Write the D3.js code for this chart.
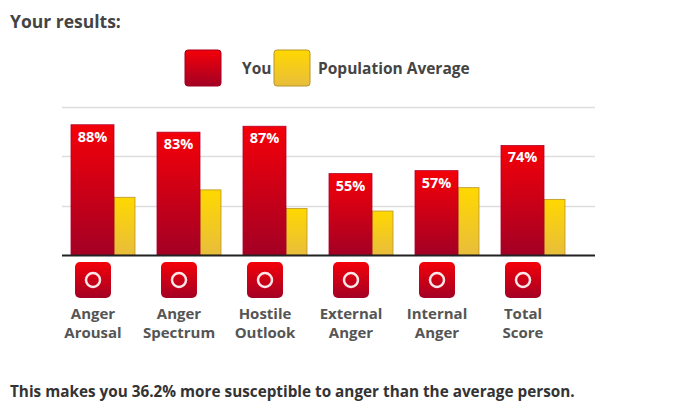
<!DOCTYPE html>
<html><head><meta charset="utf-8">
<script src="https://cdn.jsdelivr.net/npm/d3@7"></script>
<style>body{margin:0;background:#fff;font-family:"Open Sans",sans-serif}</style>
</head><body>
<svg id="c" width="680" height="413"></svg>
<script>
'use strict';

var categories = [["Anger", "Arousal"], ["Anger", "Spectrum"], ["Hostile", "Outlook"],
    ["External", "Anger"], ["Internal", "Anger"], ["Total", "Score"]];
var you = [88, 83, 87, 55, 57, 74];
var average = [39, 44, 31.5, 29.7, 45.5, 37.6];
var gridTicks = [33.3, 66.7, 100];

var svg = d3.select("#c");
var defs = svg.append("defs");
var gr = defs.append("linearGradient").attr("id", "gr").attr("x1", 0).attr("x2", 0).attr("y1", 0).attr("y2", 1);
gr.append("stop").attr("offset", 0).attr("stop-color", "#f40008");
gr.append("stop").attr("offset", 1).attr("stop-color", "#a30025");
var gy = defs.append("linearGradient").attr("id", "gy").attr("x1", 0).attr("x2", 0).attr("y1", 0).attr("y2", 1);
gy.append("stop").attr("offset", 0).attr("stop-color", "#ffd800");
gy.append("stop").attr("offset", 1).attr("stop-color", "#e8bd3c");

svg.append("text").attr("x", 10).attr("y", 28).attr("font-size", 17.5).attr("font-weight", "bold")
    .attr("fill", "#444").text("Your results:");

// legend
svg.append("rect").attr("x", 185).attr("y", 50).attr("width", 36).attr("height", 36).attr("rx", 3)
    .attr("fill", "url(#gr)").attr("stroke", "#a00020");
svg.append("text").attr("x", 242).attr("y", 74).attr("font-size", 15.5).attr("font-weight", "bold").attr("fill", "#444").text("You");
svg.append("rect").attr("x", 274).attr("y", 50).attr("width", 36).attr("height", 36).attr("rx", 3)
    .attr("fill", "url(#gy)").attr("stroke", "#b8952a");
svg.append("text").attr("x", 318).attr("y", 74).attr("font-size", 15.5).attr("font-weight", "bold").attr("fill", "#444").text("Population Average");

var y = d3.scaleLinear().domain([0, 100]).range([255, 107]);

svg.selectAll(".grid").data(gridTicks).enter().append("line")
    .attr("x1", 62).attr("x2", 595).attr("y1", function(d) { return Math.round(y(d)) + 0.5; })
    .attr("y2", function(d) { return Math.round(y(d)) + 0.5; })
    .attr("stroke", "#ddd").attr("stroke-width", 1.5);

var rw = 43, yw = 21;
var g = svg.selectAll(".grp").data(categories).enter().append("g")
    .attr("transform", function(d, i) { return "translate(" + (71 + i * 86) + ",0)"; });

g.append("rect").attr("x", rw).attr("width", yw)
    .attr("y", function(d, i) { return y(average[i]); })
    .attr("height", function(d, i) { return 255 - y(average[i]); })
    .attr("fill", "url(#gy)").attr("stroke", "#b8952a").attr("stroke-width", 0.8);
g.append("rect").attr("x", 0).attr("width", rw)
    .attr("y", function(d, i) { return y(you[i]); })
    .attr("height", function(d, i) { return 255 - y(you[i]); })
    .attr("fill", "url(#gr)").attr("stroke", "#b0002a").attr("stroke-width", 0.8);
g.append("text").attr("x", rw / 2).attr("y", function(d, i) { return y(you[i]) + 17; })
    .attr("text-anchor", "middle").attr("font-size", 14.5).attr("font-weight", "bold").attr("fill", "#fff")
    .text(function(d, i) { return you[i] + "%"; });

svg.append("line").attr("x1", 62).attr("x2", 595).attr("y1", 255.5).attr("y2", 255.5)
    .attr("stroke", "#222").attr("stroke-width", 2);

// icons
var ig = g.append("g").attr("transform", "translate(4,262)");
ig.append("rect").attr("width", 36).attr("height", 36).attr("rx", 5).attr("fill", "url(#gr)");
ig.append("circle").attr("cx", 18).attr("cy", 18).attr("r", 7).attr("fill", "none").attr("stroke", "#fff").attr("stroke-width", 2.5)
    .attr("opacity", 0.9);

g.append("text").attr("x", 22).attr("text-anchor", "middle").attr("font-size", 15).attr("font-weight", "bold")
    .attr("fill", "#555")
    .selectAll("tspan").data(function(d) { return d; }).enter().append("tspan")
    .attr("x", 22).attr("y", function(d, i) { return 319 + i * 19; }).text(function(d) { return d; });

svg.append("text").attr("x", 10).attr("y", 397).attr("font-size", 15.3).attr("font-weight", "bold")
    .attr("fill", "#333").text("This makes you 36.2% more susceptible to anger than the average person.");
</script>
</body></html>
